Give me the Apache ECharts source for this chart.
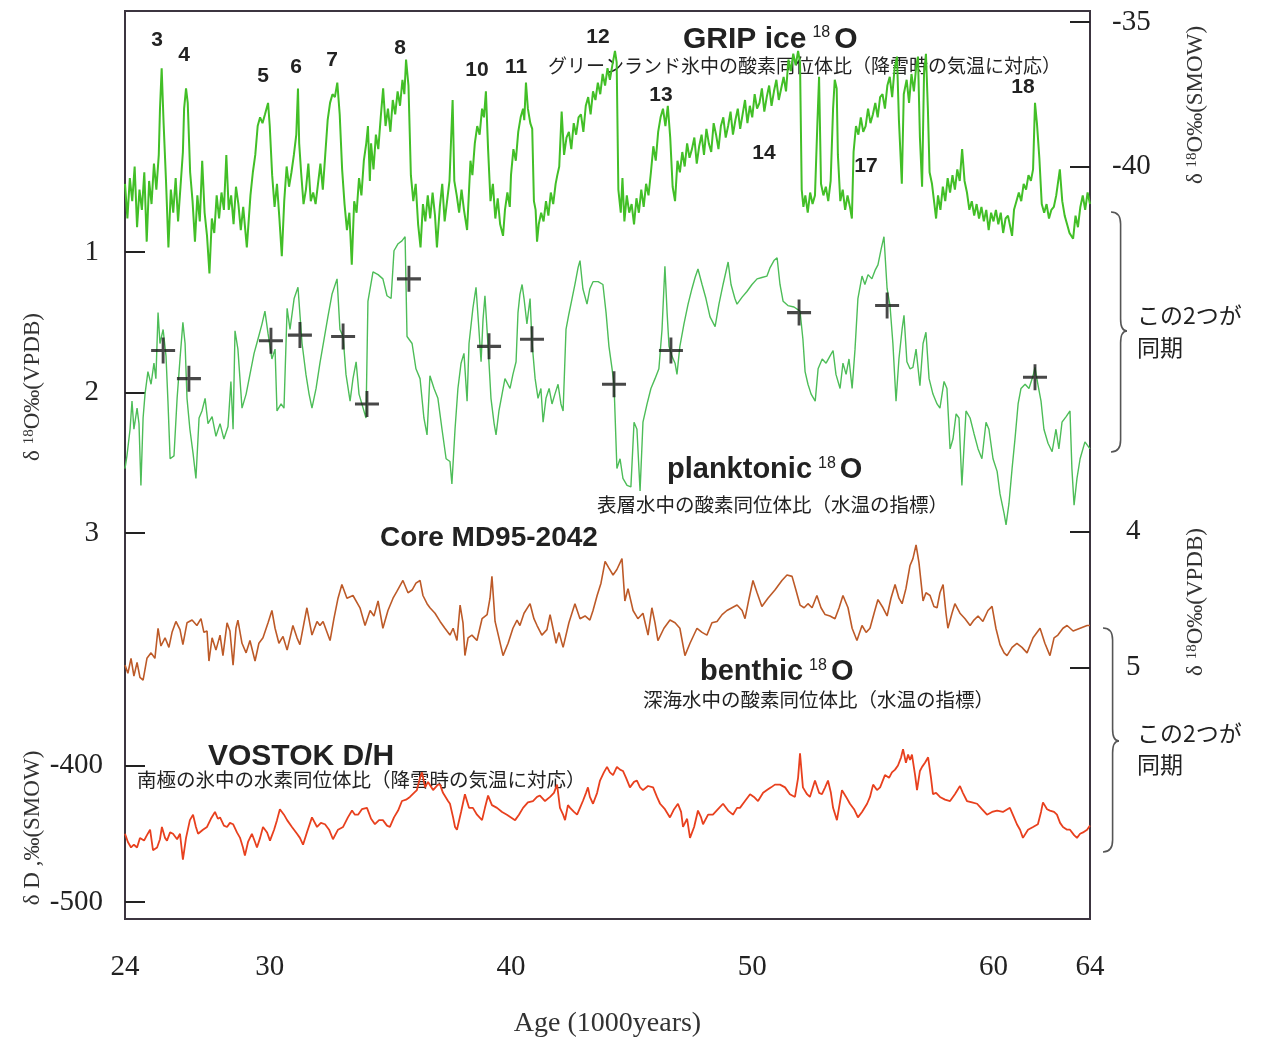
<!DOCTYPE html>
<html>
<head>
<meta charset="utf-8">
<title>GRIP / MD95-2042 / VOSTOK</title>
<script src="https://cdn.jsdelivr.net/npm/echarts@6/dist/echarts.min.js"></script>
<style>
  html, body { margin: 0; padding: 0; background: #fff; }
  #main { width: 1265px; height: 1043px; }
</style>
</head>
<body>
<div id="main"></div>
<script>
// ---- data ----
// x: age in 1000 years
var ageTicks = [24, 30, 40, 50, 60, 64];
var gripTicks = [-35, -40];
var planktonicTicks = [1, 2, 3];
var benthicTicks = [4, 5];
var vostokTicks = [-400, -500];

// GRIP ice d18O (permil SMOW)
var gripIce = [
  [24.0,-40.6],[24.1,-41.8],[24.2,-40.4],[24.3,-41.2],[24.4,-40.0],[24.5,-42.1],[24.6,-40.8],[24.7,-41.5],[24.8,-40.2],[24.9,-42.6],
  [25.0,-40.5],[25.1,-41.3],[25.2,-39.9],[25.3,-40.8],[25.4,-39.6],[25.45,-38.0],[25.52,-36.6],[25.6,-38.5],[25.7,-40.5],[25.8,-42.8],
  [25.9,-40.8],[26.0,-41.6],[26.1,-40.4],[26.2,-41.9],[26.3,-40.7],[26.4,-39.5],[26.45,-38.0],[26.53,-37.3],[26.6,-37.8],[26.7,-40.2],
  [26.8,-41.2],[26.9,-42.6],[27.0,-41.0],[27.1,-41.9],[27.2,-39.8],[27.3,-41.6],[27.4,-42.4],[27.5,-43.7],[27.6,-41.8],[27.7,-42.3],
  [27.8,-41.0],[27.9,-41.8],[28.0,-40.9],[28.1,-41.5],[28.2,-39.6],[28.3,-41.5],[28.4,-41.0],[28.5,-42.0],[28.6,-40.7],[28.7,-41.3],
  [28.8,-42.2],[28.9,-41.4],[29.05,-42.8],[29.2,-41.0],[29.3,-40.2],[29.4,-39.6],[29.5,-38.6],[29.6,-38.3],[29.7,-38.5],[29.8,-38.2],
  [29.93,-37.8],[30.0,-38.6],[30.1,-40.3],[30.2,-41.4],[30.3,-40.6],[30.4,-41.8],[30.5,-43.1],[30.6,-41.2],[30.7,-40.0],[30.8,-40.7],
  [30.9,-40.2],[31.0,-39.6],[31.1,-38.9],[31.17,-37.3],[31.22,-39.2],[31.3,-40.2],[31.4,-41.3],[31.5,-40.8],[31.6,-39.9],[31.7,-41.2],
  [31.8,-40.9],[31.9,-41.3],[32.0,-40.6],[32.1,-39.9],[32.2,-40.8],[32.3,-39.6],[32.4,-38.4],[32.5,-37.8],[32.6,-37.5],[32.7,-37.6],
  [32.8,-37.1],[32.9,-38.2],[33.0,-40.1],[33.1,-41.3],[33.2,-42.2],[33.3,-41.6],[33.4,-43.4],[33.5,-41.2],[33.6,-41.6],[33.7,-40.4],
  [33.8,-41.0],[33.9,-39.8],[34.0,-39.2],[34.07,-38.6],[34.15,-40.5],[34.2,-39.2],[34.3,-40.1],[34.4,-38.9],[34.5,-39.4],[34.6,-38.3],
  [34.7,-37.3],[34.8,-38.6],[34.9,-38.0],[35.0,-38.8],[35.1,-37.7],[35.2,-38.2],[35.3,-37.4],[35.4,-37.9],[35.5,-37.0],[35.58,-37.5],
  [35.65,-36.3],[35.75,-37.2],[35.85,-40.3],[35.95,-41.2],[36.05,-40.6],[36.15,-42.0],[36.25,-42.8],[36.35,-41.3],[36.45,-41.9],[36.55,-41.0],
  [36.65,-41.8],[36.75,-40.9],[36.85,-41.7],[36.93,-42.8],[37.05,-41.4],[37.15,-40.6],[37.25,-41.9],[37.35,-41.2],[37.45,-40.5],[37.58,-37.7],
  [37.65,-40.5],[37.75,-41.0],[37.85,-41.6],[37.95,-40.8],[38.05,-41.5],[38.18,-42.2],[38.25,-41.0],[38.32,-39.8],[38.4,-40.3],[38.5,-39.2],
  [38.6,-38.6],[38.7,-38.9],[38.8,-38.0],[38.88,-38.3],[38.96,-37.4],[39.05,-39.4],[39.15,-41.2],[39.25,-40.6],[39.35,-41.8],[39.45,-41.1],
  [39.55,-42.0],[39.67,-42.4],[39.75,-41.5],[39.85,-40.9],[39.95,-41.4],[40.0,-40.3],[40.1,-39.4],[40.2,-39.8],[40.3,-38.8],[40.4,-38.3],
  [40.5,-38.0],[40.55,-38.4],[40.62,-37.1],[40.7,-38.0],[40.8,-38.5],[40.88,-38.7],[40.95,-41.2],[41.02,-41.5],[41.08,-42.6],[41.15,-42.0],
  [41.25,-41.6],[41.35,-41.9],[41.45,-41.2],[41.55,-41.7],[41.65,-40.9],[41.75,-41.3],[41.85,-40.6],[41.92,-40.3],[42.0,-40.0],[42.1,-38.1],
  [42.2,-39.6],[42.3,-39.0],[42.4,-38.8],[42.5,-39.4],[42.6,-38.5],[42.7,-38.9],[42.8,-38.3],[42.9,-38.2],[43.0,-38.8],[43.1,-37.9],
  [43.2,-37.6],[43.3,-38.2],[43.4,-37.4],[43.5,-37.7],[43.6,-37.1],[43.7,-37.5],[43.8,-36.8],[43.9,-37.2],[44.0,-36.6],[44.1,-37.0],
  [44.2,-36.5],[44.31,-36.0],[44.38,-36.4],[44.45,-40.8],[44.55,-41.6],[44.62,-40.4],[44.7,-41.9],[44.8,-41.0],[44.9,-41.6],[45.0,-41.3],
  [45.1,-42.0],[45.2,-41.1],[45.3,-41.6],[45.4,-40.8],[45.5,-41.4],[45.6,-40.6],[45.7,-41.0],[45.8,-40.2],[45.9,-39.3],[46.0,-39.8],
  [46.1,-38.8],[46.2,-38.3],[46.3,-38.0],[46.4,-38.6],[46.5,-37.9],[46.6,-39.0],[46.7,-40.7],[46.8,-41.2],[46.9,-39.8],[47.0,-40.2],
  [47.1,-39.5],[47.2,-40.0],[47.3,-39.2],[47.4,-39.7],[47.5,-39.4],[47.6,-39.0],[47.7,-39.9],[47.8,-39.3],[47.9,-38.9],[48.0,-39.6],
  [48.1,-38.7],[48.2,-39.2],[48.3,-39.5],[48.4,-38.5],[48.5,-38.9],[48.6,-39.4],[48.7,-38.6],[48.8,-38.3],[48.9,-39.0],[49.0,-38.6],
  [49.1,-38.1],[49.2,-38.9],[49.3,-38.4],[49.4,-38.0],[49.5,-38.7],[49.6,-38.2],[49.7,-37.7],[49.8,-38.5],[49.9,-37.9],[50.0,-38.3],
  [50.1,-37.5],[50.2,-38.0],[50.3,-37.8],[50.4,-37.3],[50.5,-38.1],[50.6,-37.6],[50.7,-37.2],[50.8,-37.9],[50.9,-37.4],[51.0,-37.0],
  [51.1,-37.7],[51.2,-37.3],[51.3,-36.9],[51.4,-37.4],[51.5,-36.3],[51.6,-36.7],[51.7,-36.1],[51.8,-36.5],[51.9,-36.0],[51.98,-36.4],
  [52.05,-40.8],[52.12,-41.4],[52.2,-41.0],[52.3,-41.6],[52.4,-40.9],[52.5,-41.3],[52.6,-41.0],[52.7,-38.5],[52.77,-36.9],[52.85,-40.6],
  [52.95,-41.0],[53.05,-40.7],[53.15,-41.2],[53.25,-40.5],[53.35,-38.0],[53.42,-37.0],[53.5,-37.3],[53.55,-39.6],[53.65,-41.2],[53.75,-40.8],
  [53.85,-41.5],[53.95,-41.0],[54.05,-41.4],[54.13,-41.8],[54.2,-39.5],[54.3,-38.6],[54.4,-38.9],[54.5,-38.3],[54.6,-38.8],[54.7,-38.6],
  [54.8,-38.0],[54.9,-38.5],[55.0,-38.2],[55.1,-37.8],[55.2,-38.3],[55.3,-37.6],[55.4,-37.5],[55.5,-38.0],[55.6,-37.2],[55.7,-36.9],
  [55.8,-37.6],[55.9,-36.6],[56.0,-36.2],[56.08,-38.4],[56.2,-40.6],[56.28,-37.5],[56.4,-37.0],[56.5,-37.8],[56.6,-36.8],[56.7,-37.4],
  [56.8,-36.5],[56.87,-36.2],[56.95,-39.0],[57.04,-40.7],[57.12,-36.8],[57.2,-36.1],[57.28,-38.0],[57.35,-40.2],[57.45,-40.6],[57.55,-41.3],
  [57.62,-41.8],[57.7,-41.0],[57.8,-41.5],[57.9,-40.7],[58.0,-41.2],[58.1,-40.4],[58.2,-40.9],[58.3,-40.3],[58.4,-40.8],[58.5,-40.1],
  [58.6,-40.5],[58.7,-39.4],[58.8,-40.5],[58.9,-40.9],[59.0,-41.5],[59.1,-41.2],[59.2,-41.7],[59.3,-41.3],[59.4,-41.8],[59.5,-41.4],
  [59.6,-41.9],[59.7,-41.5],[59.8,-42.2],[59.9,-41.6],[60.0,-41.9],[60.1,-41.5],[60.2,-42.0],[60.3,-41.6],[60.4,-42.3],[60.5,-41.8],
  [60.6,-41.7],[60.77,-42.4],[60.85,-41.5],[60.95,-41.2],[61.05,-40.9],[61.15,-41.2],[61.25,-40.6],[61.35,-40.8],[61.45,-40.3],[61.55,-40.5],
  [61.64,-40.1],[61.72,-37.8],[61.8,-38.5],[61.9,-39.7],[62.0,-41.3],[62.1,-41.6],[62.2,-41.3],[62.3,-41.8],[62.4,-41.5],[62.5,-41.4],
  [62.6,-41.0],[62.75,-40.1],[62.85,-41.2],[62.95,-41.7],[63.05,-42.0],[63.15,-42.3],[63.3,-42.5],[63.4,-41.7],[63.5,-42.1],[63.6,-41.4],
  [63.7,-41.0],[63.8,-41.5],[63.9,-40.9],[64.0,-41.3]
];

// planktonic d18O (permil VPDB), axis inverted
var planktonic = [
  [24.00,2.54],[24.08,2.45],[24.21,2.26],[24.29,2.06],[24.37,2.26],[24.50,2.11],[24.58,2.22],[24.66,2.66],[24.75,2.18],[24.83,2.01],
  [24.95,1.85],[25.08,1.94],[25.20,1.79],[25.28,1.90],[25.37,1.43],[25.45,1.65],[25.58,1.55],[25.70,1.74],[25.78,2.06],[25.87,2.47],
  [26.03,2.45],[26.16,2.04],[26.28,1.76],[26.40,1.50],[26.49,1.65],[26.57,2.04],[26.69,2.26],[26.82,2.43],[26.94,2.61],[27.07,2.18],
  [27.19,2.13],[27.32,2.04],[27.44,2.22],[27.61,2.17],[27.77,2.31],[27.94,2.22],[28.10,2.33],[28.27,2.24],[28.39,1.92],[28.48,2.26],
  [28.56,1.56],[28.68,1.69],[28.85,2.11],[29.02,2.01],[29.18,1.87],[29.35,1.72],[29.51,1.62],[29.68,1.51],[29.80,1.42],[29.93,1.58],
  [30.09,1.76],[30.22,1.69],[30.30,2.13],[30.47,2.08],[30.59,2.11],[30.72,1.40],[30.84,1.55],[31.01,1.33],[31.17,1.25],[31.34,1.65],
  [31.50,1.87],[31.63,2.01],[31.75,2.11],[31.92,1.97],[32.08,1.79],[32.25,1.62],[32.41,1.46],[32.58,1.30],[32.79,1.19],[32.91,1.55],
  [33.04,1.60],[33.16,1.87],[33.33,2.06],[33.45,1.90],[33.58,1.78],[33.70,2.01],[33.87,2.11],[33.99,2.18],[34.07,1.35],[34.28,1.14],
  [34.49,1.16],[34.69,1.19],[34.86,1.31],[35.03,1.33],[35.15,0.99],[35.32,0.94],[35.48,0.92],[35.61,0.89],[35.69,1.60],[35.90,1.65],
  [36.06,1.83],[36.23,1.90],[36.39,2.18],[36.52,2.30],[36.64,1.88],[36.81,1.97],[36.97,2.04],[37.14,2.26],[37.31,2.47],[37.47,2.49],
  [37.55,2.65],[37.68,2.26],[37.80,1.97],[37.93,1.79],[38.05,1.72],[38.18,2.06],[38.26,1.65],[38.42,1.40],[38.55,1.25],[38.67,1.55],
  [38.76,1.78],[38.84,1.48],[38.92,1.31],[39.05,1.67],[39.17,2.04],[39.30,2.22],[39.38,2.30],[39.50,2.13],[39.63,2.01],[39.75,1.90],
  [39.83,1.89],[39.96,1.97],[40.08,1.87],[40.21,1.78],[40.29,1.43],[40.37,1.30],[40.46,1.23],[40.54,1.33],[40.66,1.51],[40.79,1.33],
  [40.87,1.64],[41.00,1.90],[41.12,2.04],[41.24,1.97],[41.33,2.21],[41.45,2.04],[41.58,1.97],[41.70,2.08],[41.82,2.01],[41.95,1.94],
  [42.07,2.08],[42.16,2.13],[42.28,1.55],[42.40,1.44],[42.53,1.33],[42.65,1.23],[42.78,1.11],[42.86,1.06],[42.98,1.26],[43.15,1.37],
  [43.27,1.26],[43.40,1.21],[43.61,1.21],[43.81,1.23],[43.94,1.43],[44.06,1.67],[44.19,1.83],[44.27,1.94],[44.39,2.54],[44.52,2.47],
  [44.64,2.61],[44.81,2.66],[44.97,2.67],[45.10,2.21],[45.22,2.26],[45.35,2.70],[45.47,2.21],[45.64,2.08],[45.80,1.97],[45.97,1.90],
  [46.13,1.83],[46.26,1.55],[46.38,1.10],[46.47,1.43],[46.55,1.67],[46.67,1.74],[46.80,1.79],[46.88,1.87],[47.00,1.67],[47.17,1.51],
  [47.34,1.37],[47.50,1.26],[47.63,1.18],[47.75,1.12],[47.92,1.23],[48.08,1.33],[48.25,1.46],[48.46,1.53],[48.62,1.37],[48.79,1.23],
  [49.00,1.07],[49.12,1.23],[49.28,1.33],[49.37,1.37],[49.58,1.32],[49.78,1.28],[49.99,1.23],[50.20,1.19],[50.40,1.18],[50.61,1.17],
  [50.74,1.11],[50.90,1.06],[51.03,1.04],[51.15,1.23],[51.28,1.35],[51.48,1.38],[51.73,1.39],[51.98,1.42],[52.10,1.62],[52.19,1.85],
  [52.31,1.94],[52.44,2.01],[52.61,2.06],[52.73,1.83],[52.90,1.76],[53.06,1.79],[53.22,1.74],[53.35,1.70],[53.47,1.87],[53.64,1.97],
  [53.76,1.79],[53.89,1.87],[54.01,1.76],[54.14,1.97],[54.26,1.69],[54.38,1.33],[54.55,1.17],[54.67,1.23],[54.80,1.16],[54.96,1.19],
  [55.09,1.13],[55.21,1.09],[55.34,0.98],[55.46,0.89],[55.59,1.26],[55.71,1.38],[55.83,1.65],[55.96,2.06],[56.08,1.76],[56.21,1.55],
  [56.29,1.45],[56.41,1.78],[56.54,1.83],[56.66,1.82],[56.79,1.69],[56.95,1.95],[57.08,1.65],[57.20,1.57],[57.33,1.90],[57.49,2.01],
  [57.66,2.08],[57.78,2.11],[57.95,1.92],[58.07,1.97],[58.20,2.40],[58.32,2.33],[58.45,2.15],[58.57,2.18],[58.69,2.66],[58.86,2.13],
  [59.03,2.18],[59.19,2.29],[59.36,2.40],[59.52,2.47],[59.69,2.21],[59.81,2.26],[59.98,2.47],[60.15,2.56],[60.27,2.72],[60.44,2.86],
  [60.52,2.94],[60.64,2.79],[60.77,2.54],[60.89,2.33],[61.02,2.08],[61.14,1.97],[61.31,1.94],[61.47,1.97],[61.64,1.88],[61.72,1.82],
  [61.84,1.94],[61.97,2.06],[62.09,2.26],[62.26,2.36],[62.43,2.42],[62.59,2.26],[62.71,2.40],[62.84,2.21],[63.01,2.17],[63.17,2.13],
  [63.25,2.54],[63.34,2.80],[63.46,2.61],[63.59,2.47],[63.79,2.35],[64.00,2.40]
];

// tie points (+) on the planktonic record
var tiePoints = [
  [25.58,1.70],[26.65,1.90],[30.05,1.63],[31.25,1.59],[33.04,1.60],[34.03,2.08],[35.77,1.19],
  [39.09,1.67],[40.87,1.62],[44.27,1.94],[46.63,1.70],[51.94,1.43],[55.59,1.38],[61.72,1.89]
];

// benthic d18O (permil VPDB), axis inverted
var benthic = [
  [24.00,4.98],[24.12,5.04],[24.25,4.93],[24.37,5.06],[24.50,4.96],[24.62,5.07],[24.75,5.09],[24.91,4.93],[25.08,4.89],[25.24,4.93],
  [25.37,4.71],[25.49,4.84],[25.66,4.78],[25.82,4.85],[25.95,4.74],[26.11,4.66],[26.28,4.72],[26.40,4.83],[26.57,4.67],[26.78,4.65],
  [26.98,4.69],[27.15,4.64],[27.27,4.74],[27.40,4.73],[27.48,4.95],[27.61,4.78],[27.77,4.87],[27.94,4.76],[28.06,4.91],[28.23,4.67],
  [28.35,4.73],[28.48,4.98],[28.60,4.71],[28.68,4.65],[28.85,4.82],[29.02,4.89],[29.18,4.80],[29.39,4.95],[29.55,4.82],[29.72,4.78],
  [29.93,4.67],[30.09,4.58],[30.22,4.71],[30.38,4.82],[30.55,4.77],[30.72,4.87],[30.96,4.69],[31.13,4.78],[31.25,4.83],[31.42,4.67],
  [31.54,4.56],[31.75,4.76],[31.96,4.66],[32.08,4.69],[32.21,4.66],[32.50,4.80],[32.66,4.64],[32.83,4.49],[32.99,4.39],[33.20,4.49],
  [33.45,4.47],[33.74,4.56],[33.95,4.69],[34.16,4.58],[34.32,4.62],[34.49,4.51],[34.69,4.71],[34.90,4.58],[35.11,4.49],[35.27,4.44],
  [35.52,4.36],[35.73,4.45],[35.90,4.43],[36.06,4.38],[36.23,4.36],[36.35,4.47],[36.52,4.53],[36.64,4.56],[36.85,4.60],[37.06,4.66],
  [37.26,4.71],[37.47,4.76],[37.60,4.71],[37.76,4.80],[37.89,4.54],[38.01,4.67],[38.09,4.91],[38.22,4.78],[38.38,4.76],[38.59,4.80],
  [38.80,4.64],[39.01,4.61],[39.13,4.49],[39.21,4.33],[39.34,4.66],[39.50,4.78],[39.67,4.91],[39.88,4.82],[40.08,4.71],[40.25,4.65],
  [40.37,4.69],[40.54,4.60],[40.79,4.53],[40.95,4.64],[41.08,4.69],[41.28,4.76],[41.49,4.72],[41.62,4.61],[41.74,4.71],[41.87,4.82],
  [41.99,4.74],[42.16,4.85],[42.40,4.67],[42.65,4.53],[42.86,4.64],[43.07,4.62],[43.27,4.65],[43.40,4.58],[43.57,4.47],[43.73,4.38],
  [43.90,4.22],[44.06,4.27],[44.23,4.32],[44.39,4.28],[44.60,4.20],[44.72,4.51],[44.85,4.42],[45.06,4.58],[45.26,4.64],[45.47,4.60],
  [45.68,4.76],[45.84,4.56],[45.97,4.67],[46.09,4.80],[46.34,4.71],[46.59,4.65],[46.80,4.67],[47.00,4.71],[47.21,4.91],[47.42,4.82],
  [47.71,4.71],[47.92,4.74],[48.12,4.76],[48.33,4.67],[48.54,4.66],[48.75,4.61],[48.95,4.58],[49.16,4.56],[49.37,4.54],[49.58,4.58],
  [49.70,4.64],[49.87,4.49],[50.03,4.36],[50.20,4.45],[50.40,4.55],[50.65,4.49],[50.94,4.43],[51.23,4.36],[51.44,4.32],[51.65,4.33],
  [51.81,4.43],[51.98,4.54],[52.15,4.56],[52.31,4.53],[52.48,4.56],[52.68,4.47],[52.85,4.56],[53.02,4.61],[53.22,4.62],[53.43,4.64],
  [53.60,4.56],[53.76,4.47],[53.97,4.56],[54.14,4.71],[54.34,4.80],[54.55,4.69],[54.72,4.74],[54.88,4.71],[55.05,4.60],[55.21,4.50],
  [55.42,4.56],[55.59,4.62],[55.75,4.49],[55.92,4.39],[56.08,4.49],[56.21,4.53],[56.37,4.42],[56.54,4.25],[56.66,4.20],[56.79,4.10],
  [56.91,4.23],[57.08,4.51],[57.20,4.45],[57.37,4.47],[57.53,4.55],[57.66,4.56],[57.78,4.45],[57.91,4.39],[58.03,4.60],[58.11,4.71],
  [58.28,4.60],[58.40,4.53],[58.61,4.60],[58.82,4.64],[59.03,4.69],[59.19,4.65],[59.36,4.62],[59.56,4.66],[59.77,4.58],[59.94,4.55],
  [60.10,4.71],[60.27,4.83],[60.44,4.89],[60.56,4.91],[60.77,4.85],[60.97,4.82],[61.18,4.85],[61.39,4.89],[61.64,4.78],[61.93,4.71],
  [62.13,4.82],[62.34,4.91],[62.51,4.78],[62.67,4.76],[62.88,4.71],[63.05,4.69],[63.30,4.73],[63.59,4.71],[63.88,4.69],[64.00,4.69]
];

// VOSTOK dD (permil SMOW)
var vostok = [
  [24.00,-450],[24.12,-456],[24.25,-460],[24.37,-458],[24.50,-460],[24.62,-453],[24.79,-455],[24.91,-451],[25.04,-447],[25.16,-462],
  [25.33,-460],[25.45,-454],[25.53,-445],[25.66,-453],[25.74,-455],[25.87,-449],[25.99,-450],[26.16,-454],[26.28,-450],[26.40,-469],
  [26.53,-453],[26.69,-440],[26.82,-436],[26.94,-445],[27.03,-450],[27.23,-447],[27.40,-445],[27.56,-439],[27.73,-434],[27.85,-439],
  [27.94,-438],[28.10,-444],[28.23,-445],[28.35,-442],[28.48,-443],[28.64,-449],[28.77,-453],[28.89,-460],[28.97,-466],[29.10,-456],
  [29.26,-450],[29.39,-456],[29.47,-460],[29.60,-453],[29.72,-445],[29.89,-449],[30.01,-455],[30.18,-447],[30.30,-440],[30.42,-432],
  [30.59,-436],[30.72,-440],[30.92,-445],[31.13,-450],[31.25,-453],[31.38,-458],[31.54,-449],[31.75,-438],[31.96,-445],[32.12,-442],
  [32.29,-443],[32.46,-447],[32.62,-454],[32.83,-447],[33.04,-445],[33.24,-438],[33.41,-433],[33.53,-436],[33.66,-436],[33.82,-432],
  [34.03,-431],[34.20,-439],[34.36,-443],[34.53,-440],[34.69,-440],[34.86,-444],[34.98,-445],[35.15,-438],[35.32,-433],[35.48,-426],
  [35.65,-425],[35.81,-423],[35.98,-420],[36.10,-418],[36.23,-409],[36.31,-405],[36.44,-416],[36.56,-412],[36.64,-411],[36.77,-418],
  [36.85,-418],[36.97,-414],[37.06,-414],[37.18,-420],[37.26,-421],[37.39,-426],[37.47,-428],[37.60,-438],[37.68,-445],[37.76,-447],
  [37.93,-434],[38.09,-421],[38.26,-431],[38.42,-431],[38.59,-436],[38.80,-440],[38.92,-431],[39.05,-422],[39.21,-429],[39.42,-431],
  [39.63,-434],[39.83,-436],[40.00,-438],[40.17,-440],[40.33,-436],[40.50,-431],[40.70,-427],[40.91,-426],[41.08,-423],[41.20,-422],
  [41.41,-426],[41.62,-423],[41.78,-420],[41.91,-414],[42.03,-431],[42.16,-436],[42.24,-440],[42.36,-429],[42.45,-431],[42.61,-434],
  [42.74,-436],[42.86,-431],[42.98,-426],[43.11,-420],[43.19,-416],[43.27,-423],[43.40,-428],[43.57,-420],[43.69,-411],[43.85,-405],
  [43.98,-401],[44.10,-405],[44.23,-407],[44.39,-401],[44.52,-403],[44.64,-404],[44.77,-409],[44.93,-416],[45.10,-412],[45.22,-411],
  [45.35,-416],[45.47,-418],[45.68,-415],[45.89,-416],[46.05,-423],[46.18,-428],[46.38,-432],[46.59,-438],[46.76,-432],[46.92,-428],
  [47.05,-434],[47.13,-445],[47.30,-439],[47.42,-453],[47.59,-445],[47.75,-433],[47.88,-438],[47.96,-443],[48.17,-436],[48.37,-436],
  [48.58,-432],[48.79,-428],[49.00,-433],[49.20,-436],[49.37,-431],[49.49,-431],[49.70,-426],[49.91,-421],[50.07,-423],[50.24,-426],
  [50.45,-420],[50.61,-418],[50.78,-416],[50.94,-414],[51.15,-414],[51.36,-416],[51.56,-421],[51.77,-423],[51.90,-409],[51.98,-391],
  [52.10,-416],[52.27,-421],[52.39,-423],[52.60,-411],[52.77,-420],[52.89,-421],[53.02,-416],[53.14,-411],[53.26,-420],[53.35,-431],
  [53.51,-440],[53.72,-418],[53.89,-423],[54.05,-428],[54.22,-432],[54.38,-438],[54.55,-434],[54.76,-428],[54.88,-423],[55.01,-414],
  [55.17,-418],[55.30,-416],[55.50,-407],[55.67,-409],[55.79,-405],[55.92,-403],[56.04,-400],[56.17,-394],[56.25,-388],[56.37,-398],
  [56.46,-392],[56.54,-396],[56.62,-392],[56.75,-407],[56.83,-418],[56.95,-404],[57.04,-401],[57.16,-398],[57.29,-394],[57.41,-409],
  [57.49,-421],[57.62,-420],[57.78,-423],[57.99,-425],[58.20,-426],[58.40,-421],[58.61,-415],[58.73,-420],[58.90,-426],[59.11,-427],
  [59.32,-428],[59.52,-432],[59.73,-436],[59.94,-434],[60.15,-433],[60.39,-434],[60.68,-431],[60.85,-438],[60.97,-443],[61.10,-447],
  [61.22,-453],[61.43,-447],[61.64,-445],[61.84,-443],[61.97,-434],[62.05,-427],[62.22,-432],[62.34,-433],[62.51,-434],[62.63,-436],
  [62.76,-442],[62.88,-445],[63.05,-447],[63.17,-447],[63.34,-451],[63.46,-453],[63.59,-450],[63.71,-449],[63.88,-447],[64.00,-444]
];

// interstadial numbers above the GRIP curve
var eventNames = ['3', '4', '5', '6', '7', '8', '10', '11', '12', '13', '14', '17', '18'];

// ---- chart ----
var myChart = echarts.init(document.getElementById('main'));

var serif = '"Liberation Serif", "DejaVu Serif", serif';
var sans = '"Liberation Sans", Arial, sans-serif';
var jp = '"Noto Sans CJK JP", sans-serif';
var ink = '#222';

function yAx(opt) {
  // every y axis spans the full plot height; only the picked ticks are drawn
  return Object.assign({
    type: 'value',
    axisLine: { show: false },
    splitLine: { show: false },
    axisTick: {
      show: true, inside: true, length: 20, customValues: opt.ticks,
      lineStyle: { color: ink, width: 2 }
    },
    axisLabel: {
      customValues: opt.ticks, margin: opt.margin,
      fontFamily: serif, fontSize: 29, color: ink
    }
  }, opt.extra);
}

function txt(x, y, text, font, align) {
  return {
    type: 'text', x: x, y: y, silent: true,
    style: { text: text, font: font, fill: ink, align: align || 'left', verticalAlign: 'middle' }
  };
}

// title with superscript 18 (rich text)
function isoTitle(x, y, word, size) {
  return {
    type: 'text', x: x, y: y, silent: true,
    style: {
      text: '{w|' + word + '}{s|18}{w|O}',
      fill: ink, align: 'left', verticalAlign: 'middle',
      rich: {
        w: { fontFamily: sans, fontWeight: 'bold', fontSize: size, fill: ink },
        s: { fontFamily: sans, fontSize: 16, fill: ink, verticalAlign: 'top', padding: [0, 4, 0, 6] }
      }
    }
  };
}

function axisName(x, y, rich) {
  return {
    type: 'text', x: x, y: y, rotation: Math.PI / 2, silent: true,
    style: {
      text: rich, fill: '#333', align: 'center', verticalAlign: 'middle',
      rich: {
        a: { fontFamily: serif, fontSize: 23, fill: '#333' },
        s: { fontFamily: serif, fontSize: 15, fill: '#333', verticalAlign: 'top' }
      }
    }
  };
}

// curly brace "}" built from lines and quadratic curves
function brace(x0, yTop, yMid, yBot, w) {
  var x1 = x0 + w * 0.6, x2 = x0 + w;
  var st = { stroke: '#555', lineWidth: 1.6, fill: null };
  function q(ax, ay, cx, cy, bx, by) {
    return { type: 'bezierCurve', silent: true, shape: { x1: ax, y1: ay, cpx1: cx, cpy1: cy, x2: bx, y2: by }, style: st };
  }
  function l(ax, ay, bx, by) {
    return { type: 'line', silent: true, shape: { x1: ax, y1: ay, x2: bx, y2: by }, style: st };
  }
  return {
    type: 'group', silent: true,
    children: [
      q(x0, yTop, x1, yTop, x1, yTop + 12),
      l(x1, yTop + 12, x1, yMid - 12),
      q(x1, yMid - 12, x1, yMid, x2, yMid),
      q(x2, yMid, x1, yMid, x1, yMid + 12),
      l(x1, yMid + 12, x1, yBot - 12),
      q(x1, yBot - 12, x1, yBot, x0, yBot)
    ]
  };
}

// where the interstadial numbers sit
var eventPos = [[157, 40], [184, 55], [263, 76], [296, 67], [332, 60], [400, 48], [477, 70],
  [516, 67], [598, 37], [661, 95], [764, 153], [866, 166], [1023, 87]];

var graphics = [];
eventNames.forEach(function (n, i) {
  graphics.push(txt(eventPos[i][0], eventPos[i][1], n, 'bold 21px ' + sans, 'center'));
});

graphics.push(
  isoTitle(683, 40, 'GRIP ice', 30),
  txt(548, 66, 'グリーンランド氷中の酸素同位体比（降雪時の気温に対応）', '19px ' + jp),
  isoTitle(667, 470, 'planktonic', 29),
  txt(597, 505, '表層水中の酸素同位体比（水温の指標）', '19.5px ' + jp),
  txt(380, 538, 'Core MD95-2042', 'bold 28px ' + sans),
  isoTitle(700, 672, 'benthic', 29),
  txt(643, 700, '深海水中の酸素同位体比（水温の指標）', '19.5px ' + jp),
  txt(208, 757, 'VOSTOK D/H', 'bold 30px ' + sans),
  txt(137, 780, '南極の氷中の水素同位体比（降雪時の気温に対応）', '19.5px ' + jp),
  axisName(33, 387, '{a|δ }{s|18}{a|O‰(VPDB)}'),
  axisName(33, 828, '{a|δ D ,‰(SMOW)}'),
  axisName(1196, 105, '{a|δ }{s|18}{a|O‰(SMOW)}'),
  axisName(1196, 602, '{a|δ }{s|18}{a|O‰(VPDB)}'),
  brace(1111, 212, 331, 452, 16),
  brace(1103, 628, 741, 852, 16),
  txt(1137, 315, 'この2つが', '23px ' + jp),
  txt(1137, 347, '同期', '23px ' + jp),
  txt(1137, 733, 'この2つが', '23px ' + jp),
  txt(1137, 764, '同期', '23px ' + jp)
);

var option = {
  backgroundColor: '#fff',
  animation: false,
  grid: {
    left: 125, right: 175, top: 11, bottom: 121,
    show: true, borderColor: '#3c3540', borderWidth: 2, backgroundColor: 'transparent'
  },
  xAxis: {
    type: 'value', min: 24, max: 64,
    axisLine: { show: false },
    axisTick: { show: false },
    splitLine: { show: false },
    axisLabel: {
      customValues: ageTicks, margin: 34,
      fontFamily: serif, fontSize: 29, color: ink
    },
    name: 'Age (1000years)',
    nameLocation: 'middle',
    nameGap: 91,
    nameTextStyle: { fontFamily: serif, fontSize: 28, color: '#333' }
  },
  yAxis: [
    // 0: GRIP, right
    yAx({ ticks: gripTicks, margin: 22, extra: { position: 'right', min: -66.034, max: -34.621 } }),
    // 1: planktonic, left, inverted
    yAx({ ticks: planktonicTicks, margin: 26, extra: { position: 'left', inverse: true, min: -0.716, max: 5.745 } }),
    // 2: benthic, right, inverted
    yAx({ ticks: benthicTicks, margin: 36, extra: { position: 'right', inverse: true, min: 0.190, max: 6.839 } }),
    // 3: VOSTOK dD, left
    yAx({ ticks: vostokTicks, margin: 22, extra: { position: 'left', min: -512.4, max: 152.55 } })
  ],
  series: [
    {
      name: 'GRIP ice 18O', type: 'line', yAxisIndex: 0, data: gripIce,
      showSymbol: false, silent: true,
      lineStyle: { color: '#42bf27', width: 2 }
    },
    {
      name: 'planktonic 18O', type: 'line', yAxisIndex: 1, data: planktonic,
      showSymbol: false, silent: true,
      lineStyle: { color: '#4dbd58', width: 1.4 }
    },
    {
      name: 'tie points', type: 'scatter', yAxisIndex: 1, data: tiePoints, silent: true,
      symbol: 'path://M44,0 H56 V44 H100 V56 H56 V100 H44 V56 H0 V44 H44 Z',
      symbolSize: [24, 26],
      itemStyle: { color: '#1a1a1a' }, z: 5
    },
    {
      name: 'benthic 18O', type: 'line', yAxisIndex: 2, data: benthic,
      showSymbol: false, silent: true,
      lineStyle: { color: '#bd5a28', width: 1.6 }
    },
    {
      name: 'VOSTOK D/H', type: 'line', yAxisIndex: 3, data: vostok,
      showSymbol: false, silent: true,
      lineStyle: { color: '#e8401e', width: 1.8 }
    }
  ],
  graphic: graphics
};

myChart.setOption(option);
</script>
</body>
</html>
